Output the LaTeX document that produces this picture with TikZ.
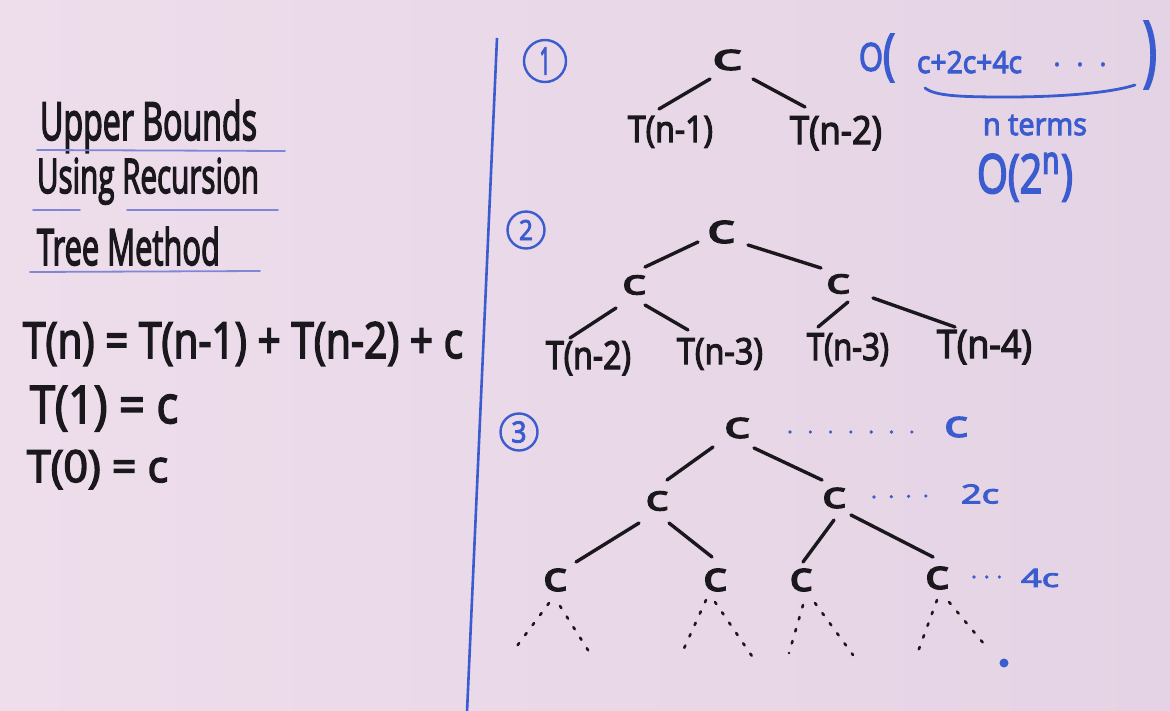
\documentclass[tikz,border=0pt]{standalone}
\usepackage{fontspec}
\setmainfont{Open Sans}
\usepackage{graphicx}

\definecolor{boardL}{RGB}{238,222,236}
\definecolor{boardR}{RGB}{228,211,228}
\definecolor{ink}{RGB}{26,24,28}
\definecolor{marker}{RGB}{58,92,206}
\definecolor{rulecol}{RGB}{128,134,214}

% marker-like lettering: glyphs are filled and outlined
\newcommand{\mk}[1]{\special{pdf:literal direct 2 Tr 0.35 w}#1\special{pdf:literal direct 0 Tr}}
% scale a piece of text to a given width and height (in pt)
\newcommand{\fit}[3]{\resizebox{#1pt}{#2pt}{\mk{#3}}}

\tikzset{
  txt/.style={inner sep=0pt, outer sep=0pt, text=ink, anchor=base west},
  btxt/.style={txt, text=marker},
  cnode/.style={inner sep=0pt, outer sep=0pt, text=ink},
  bnode/.style={inner sep=0pt, outer sep=0pt, text=marker},
  branch/.style={draw=ink, line width=3.4pt, line cap=round},
  dotbranch/.style={draw=ink, line width=2.6pt, line cap=round, dash pattern=on 2.5pt off 10pt},
  leveldots/.style={draw=marker, line width=3.6pt, line cap=round, dash pattern=on 0pt off #1},
  numring/.style={circle, draw=marker, line width=2.4pt, text=marker, inner sep=0pt},
  underline/.style={draw=rulecol, line width=1.8pt, line cap=round},
  bluestroke/.style={draw=marker, line width=2.8pt, line cap=round},
}

\begin{document}
\begin{tikzpicture}[x=1pt,y=-1pt]
\shade[left color=boardL, right color=boardR] (0,0) rectangle (1170,710);
\useasboundingbox (0,0) rectangle (1170,710);

% ---------- title block ----------
\node[txt] (h1) at (40,140) {\fit{217}{40}{Upper Bounds}};
\node[txt] (h2) at (37,193) {\fit{222}{35}{Using Recursion}};
\node[txt] (h3) at (37,265) {\fit{183}{38}{Tree Method}};
\draw[underline] (37,150) -- (285,151);
\draw[underline] (33,210) -- (80,210);
\draw[underline] (127,210) -- (278,210);
\draw[underline] (30,272) -- (260,271);

% ---------- recurrence ----------
\node[txt] (e1) at (23,358) {\fit{440}{36}{T(n) = T(n-1) + T(n-2) + c}};
\node[txt] (e2) at (30,423) {\fit{148}{37}{T(1) = c}};
\node[txt] (e3) at (27,482) {\fit{141}{32}{T(0) = c}};

% ---------- divider ----------
\draw[draw=marker, line width=2.6pt] (497,38) -- (467,712);

% ---------- step 1 ----------
\node[numring, minimum size=42pt] (n1) at (545,61) {\fit{11}{27}{1}};
\node[cnode] (r1) at (727,60) {\fit{30}{20}{c}};
\node[txt] (a1) at (628,142) {\fit{85}{26}{T(n-1)}};
\node[txt] (b1) at (790,144) {\fit{92}{28}{T(n-2)}};
\draw[branch] ([shift={(-17,19)}]r1.center) -- ([shift={(31,-33)}]a1.base west);
\draw[branch] ([shift={(26,19)}]r1.center) -- ([shift={(15,-37)}]b1.base west);

% total cost
\node[bnode] (bo) at (871,57) {\fit{24}{28}{O}};
\node[bnode] (lp) at (889,58) {\fit{12}{39}{(}};
\node[btxt] (ex) at (917,73) {\fit{105}{22}{c+2c+4c}};
\node[btxt] (dd) at (1053,75) {\fontsize{30}{30}\selectfont\mk{·\hspace{15pt}·\hspace{15pt}·}};
\node[bnode] (rp) at (1150,55) {\fit{14}{55}{)}};
\draw[bluestroke] (925,88) .. controls (935,96) and (960,97) .. (1007,97)
                  .. controls (1060,97) and (1110,93) .. (1135,85);
\node[btxt] (nt) at (983,135) {\fit{104}{20}{n terms}};
\node[btxt] (bg) at (977,193) {\fit{96}{40}{O(2\textsuperscript{n})}};

% ---------- step 2 ----------
\node[numring, minimum size=37pt] (n2) at (526,230) {\fit{14}{20}{2}};
\node[cnode] (r2) at (721,232) {\fit{28}{22}{c}};
\node[cnode] (l2) at (634,285) {\fit{24}{19}{c}};
\node[cnode] (m2) at (838,284) {\fit{24}{19}{c}};
\node[txt] (p2) at (546,369) {\fit{85}{28}{T(n-2)}};
\node[txt] (q2) at (677,364) {\fit{86}{26}{T(n-3)}};
\node[txt] (s2) at (807,360) {\fit{82}{27}{T(n-3)}};
\node[txt] (u2) at (937,358) {\fit{95}{28}{T(n-4)}};
\draw[branch] ([shift={(-23,10)}]r2.center) -- ([shift={(11,-18)}]l2.center);
\draw[branch] ([shift={(27,13)}]r2.center) -- ([shift={(-17,-16)}]m2.center);
\draw[branch] ([shift={(-18,23)}]l2.center) -- ([shift={(24,-31)}]p2.base west);
\draw[branch] ([shift={(11,20)}]l2.center) -- ([shift={(11,-34)}]q2.base west);
\draw[branch] ([shift={(10,18)}]m2.center) -- ([shift={(11,-33)}]s2.base west);
\draw[branch] ([shift={(35,14)}]m2.center) -- ([shift={(18,-31)}]u2.base west);

% ---------- step 3 ----------
\node[numring, minimum size=37pt] (n3) at (519,432) {\fit{15}{21}{3}};
\node[cnode] (r3) at (737,428) {\fit{26}{20}{c}};
\node[cnode] (l3) at (657,501) {\fit{23}{19}{c}};
\node[cnode] (m3) at (834,498) {\fit{24}{20}{c}};
\node[cnode] (k1) at (555,580) {\fit{24}{22}{c}};
\node[cnode] (k2) at (715,580) {\fit{24}{22}{c}};
\node[cnode] (k3) at (801,580) {\fit{23}{22}{c}};
\node[cnode] (k4) at (937,578) {\fit{24}{22}{c}};
\draw[branch] ([shift={(-24,19)}]r3.center) -- ([shift={(10,-21)}]l3.center);
\draw[branch] ([shift={(17,20)}]r3.center) -- ([shift={(-12,-18)}]m3.center);
\draw[branch] ([shift={(-18,22)}]l3.center) -- ([shift={(21,-18)}]k1.center);
\draw[branch] ([shift={(12,22)}]l3.center) -- ([shift={(-3,-23)}]k2.center);
\draw[branch] ([shift={(0,22)}]m3.center) -- ([shift={(2,-18)}]k3.center);
\draw[branch] ([shift={(17,17)}]m3.center) -- ([shift={(-4,-21)}]k4.center);

% level costs
\node[bnode] (lc1) at (956,427) {\fit{24}{20}{c}};
\node[bnode] (lc2) at (980,494) {\fit{38}{19}{2c}};
\node[bnode] (lc3) at (1040,578) {\fit{38}{18}{4c}};
\draw[leveldots=20.3pt] ([shift={(53,4)}]r3.center) -- ([shift={(-44,5)}]lc1.center);
\draw[leveldots=17.3pt] ([shift={(40,-1)}]m3.center) -- ([shift={(-54,2)}]lc2.center);
\draw[leveldots=12.7pt] ([shift={(37,-1)}]k4.center) -- ([shift={(-28,-1)}]lc3.center);

% unfinished branches below the third level
\coordinate (d1) at (514,650);
\coordinate (d2) at (593,658);
\coordinate (d3) at (681,655);
\coordinate (d4) at (756,662);
\coordinate (d5) at (789,653);
\coordinate (d6) at (853,655);
\coordinate (d7) at (916,657);
\coordinate (d8) at (989,650);
\draw[dotbranch] ([shift={(-6,23)}]k1.center) -- (d1);
\draw[dotbranch] ([shift={(5,26)}]k1.center) -- (d2);
\draw[dotbranch] ([shift={(-9,20)}]k2.center) -- (d3);
\draw[dotbranch] ([shift={(0,22)}]k2.center) -- (d4);
\draw[dotbranch] ([shift={(2,25)}]k3.center) -- (d5);
\draw[dotbranch] ([shift={(14,23)}]k3.center) -- (d6);
\draw[dotbranch] ([shift={(0,22)}]k4.center) -- (d7);
\draw[dotbranch] ([shift={(12,24)}]k4.center) -- (d8);
\fill[marker] (1004,663) circle (4.5);
\end{tikzpicture}
\end{document}
